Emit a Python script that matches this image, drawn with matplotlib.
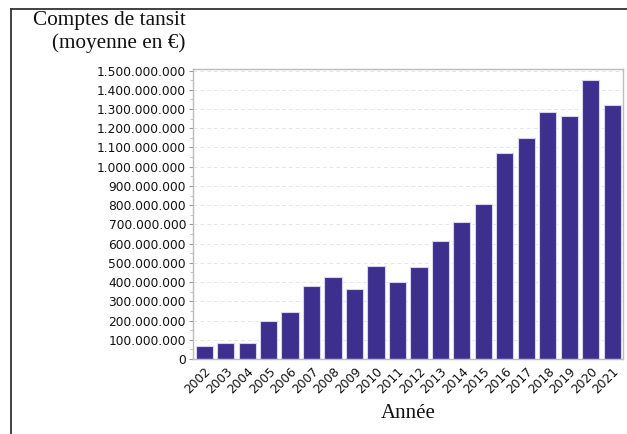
import matplotlib

matplotlib.use("Agg")
import matplotlib.pyplot as plt
import numpy as np
from matplotlib.lines import Line2D
from matplotlib.ticker import FuncFormatter, MultipleLocator

YEARS = [str(y) for y in range(2002, 2022)]
TRANSIT = [
    69e6, 82e6, 85e6, 196e6, 245e6, 379e6, 429e6, 366e6, 486e6, 401e6,
    476e6, 613e6, 712e6, 804e6, 1073e6, 1148e6, 1286e6, 1266e6, 1450e6, 1321e6,
]
Y_LABEL = "Comptes de tansit\n(moyenne en €)"
X_LABEL = "Année"

BAR_COLOR = "#3d2f8e"
SERIF = ["Liberation Serif", "DejaVu Serif"]


def dotted_thousands(value, _pos):
    return f"{int(round(value)):,}".replace(",", ".")


fig = plt.figure(figsize=(6.27, 4.34), dpi=100)
ax = fig.add_axes([0.3078, 0.1728, 0.6858, 0.6682])

x = np.arange(len(YEARS))
ax.bar(x, TRANSIT, width=0.8, color=BAR_COLOR, edgecolor="#d8d4ee", linewidth=0.8, zorder=2)

ax.set_xlim(-0.52, len(YEARS) - 0.5)
ax.set_ylim(0, 1.508e9)
ax.yaxis.set_major_locator(MultipleLocator(1e8))
ax.yaxis.set_minor_locator(MultipleLocator(5e7))
ax.yaxis.set_major_formatter(FuncFormatter(dotted_thousands))
ax.set_xticks(x)
ax.set_xticklabels(YEARS, rotation=45, ha="right", va="top", rotation_mode="anchor")

ax.tick_params(axis="both", labelsize=8.8, colors="#999999", labelcolor="#111111", length=3, width=0.8, pad=2)
ax.tick_params(axis="y", which="minor", length=2, colors="#bbbbbb")
ax.tick_params(axis="x", length=0, pad=4)
ax.grid(axis="y", color="#e6e6e6", linestyle=(0, (4, 3)), linewidth=0.7, zorder=0)
for side in ["left", "bottom", "right", "top"]:
    ax.spines[side].set_color("#bcbcbc")
    ax.spines[side].set_linewidth(1.0)

fig.text(0.296, 0.975, Y_LABEL, ha="right", va="top", fontsize=15.3, family=SERIF,
         linespacing=1.2, color="#111111")
fig.text(0.651, 0.025, X_LABEL, ha="center", va="bottom", fontsize=15, family=SERIF,
         color="#111111")

# frame lines along the top and left edges of the figure
fig.add_artist(Line2D([0.0175, 0.0175], [0.0, 0.979], color="#333333", linewidth=1.3))
fig.add_artist(Line2D([0.0175, 1.0], [0.979, 0.979], color="#333333", linewidth=1.3))

fig.savefig("out.png", dpi=100)
